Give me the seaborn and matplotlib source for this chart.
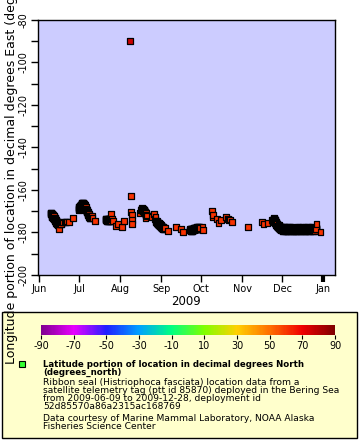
import numpy as np
import pandas as pd
import matplotlib
matplotlib.use("Agg")
import matplotlib.pyplot as plt
import matplotlib.dates as mdates
from matplotlib.colors import LinearSegmentedColormap, Normalize
from matplotlib.patches import Rectangle
from matplotlib.lines import Line2D
import seaborn as sns

plt.rcParams["axes.unicode_minus"] = False

# ---------------- data ----------------
# isolated fixes: "MM-DD HH" and longitude (degrees East)
sparse_times = [
    "06-15 12", "06-16 00", "06-16 12", "06-17 00", "06-17 12", "06-18 00",
    "06-19 00", "06-20 00", "06-21 00", "06-22 00", "06-23 00", "06-26 00",
    "07-09 18", "07-10 12", "07-11 00", "07-13 00",
    "07-25 06", "07-25 18", "07-26 12", "07-29 00", "07-30 00", "08-02 00",
    "08-03 12",
    "08-08 12", "08-09 00", "08-09 06", "08-09 12", "08-09 18", "08-10 00",
    "08-15 12", "08-16 06", "08-20 00",
    "08-25 00", "08-26 12", "08-27 00", "08-27 12",
    "09-03 12", "09-06 00", "09-12 00", "09-16 00", "09-17 00",
    "10-02 00", "10-02 12",
    "10-09 00", "10-09 12", "10-10 00", "10-13 00", "10-14 00", "10-16 00",
    "10-20 00", "10-21 00", "10-22 00", "10-23 00", "10-24 00",
    "11-05 00", "11-16 00", "11-17 00", "11-20 00", "11-23 00",
    "12-27 00", "12-30 00",
]
sparse_lon = [
    -178.6, -176.0, -175.5, -176.2, -175.8, -175.0,
    -175.3, -174.9, -175.2, -174.8, -174.9, -173.0,
    -172.7, -172.2, -173.2, -174.4,
    -171.3, -173.8, -174.5, -176.8, -176.0, -177.6,
    -174.4,
    -89.9, -162.8, -170.2, -171.8, -174.1, -176.0,
    -170.7, -169.4, -173.4,
    -172.7, -171.3, -173.8, -172.5,
    -178.0, -179.1, -177.3, -178.5, -179.6,
    -177.3, -178.8,
    -169.7, -172.6, -171.8, -173.8, -175.4, -174.0,
    -172.8, -173.6, -174.2, -173.9, -174.9,
    -177.3, -174.9, -176.0, -175.4, -174.1,
    -176.0, -179.6,
]

# dense runs of fixes every 6 hours (two interleaved runs, 3 h apart): start and longitudes
jun_start = "2009-06-09 12:00"
jun_lon = [-171.0, -170.6, -171.5, -172.2, -171.3, -172.6, -171.8, -173.0,
           -172.4, -173.4, -172.1, -173.8, -174.0, -173.3, -174.6, -174.2,
           -175.0, -175.6, -174.8, -175.5, -176.0, -175.2, -176.4, -175.8]
jun_start_b = "2009-06-09 15:00"
jun_lon_b = [-170.8, -171.3, -172.0, -171.1, -172.5, -171.6, -172.8, -172.2,
             -173.1, -172.7, -173.6, -173.0, -174.3, -173.7, -174.4, -174.9,
             -174.5, -175.3, -175.1, -175.8, -175.4, -176.1, -175.6, -176.8]

jul_start = "2009-06-30 12:00"
jul_lon = [-168.8, -168.2, -169.0, -168.4, -167.6, -168.0, -167.2, -166.8,
           -167.4, -166.5, -166.0, -166.7, -167.2, -166.3, -166.0, -166.6,
           -167.4, -166.9, -167.8, -168.3, -167.6, -168.8, -169.4, -168.9,
           -169.8, -170.4, -169.9, -170.8, -171.4, -171.0, -171.9, -172.4,
           -172.0, -172.8, -173.2, -172.6]
jul_start_b = "2009-06-30 15:00"
jul_lon_b = [-168.5, -169.3, -168.0, -167.9, -168.6, -167.5, -167.0, -167.9,
             -166.8, -166.3, -166.9, -167.5, -166.6, -166.2, -167.0, -166.4,
             -167.1, -167.9, -167.2, -168.0, -168.6, -168.2, -169.1, -169.6,
             -169.3, -170.1, -170.6, -170.2, -171.1, -171.6, -171.3, -172.1,
             -172.6, -172.3, -173.0, -173.4]

latejul_start = "2009-07-21 00:00"
latejul_lon = [-173.8, -174.3, -173.6, -174.6, -173.9, -174.2, -173.5, -174.4,
               -174.0, -173.7, -174.5, -173.9, -174.2, -173.6, -174.3, -173.8]
latejul_start_b = "2009-07-21 03:00"
latejul_lon_b = [-174.1, -173.7, -174.4, -173.9, -174.3, -173.6, -174.0, -174.6,
                 -173.8, -174.2, -173.9, -174.4, -173.7, -174.1, -174.5, -173.9]

aug_start = "2009-08-17 00:00"
aug_lon = [-169.0, -168.6, -169.4, -168.9, -169.8, -169.2, -170.0, -169.5,
           -170.4, -169.9, -170.6, -171.0, -170.5, -171.4, -171.8, -172.2]
aug_start_b = "2009-08-17 03:00"
aug_lon_b = [-168.8, -169.2, -168.7, -169.6, -169.0, -169.9, -169.3, -170.2,
             -169.7, -170.3, -170.8, -170.2, -171.2, -171.0, -171.6, -172.0]

lateaug_start = "2009-08-28 00:00"
lateaug_lon = [-174.5, -175.2, -174.8, -175.6, -175.1, -176.0, -175.5, -176.3,
               -175.8, -176.6, -176.1, -176.9, -176.4, -177.2, -176.8, -177.5,
               -177.0, -177.8, -177.3, -178.0, -177.6, -178.3, -177.9, -178.5]
lateaug_start_b = "2009-08-28 03:00"
lateaug_lon_b = [-174.9, -174.6, -175.4, -174.9, -175.8, -175.3, -176.1, -175.6,
                 -176.4, -175.9, -176.7, -176.2, -177.0, -176.6, -177.3, -176.9,
                 -177.6, -177.2, -177.9, -177.4, -178.1, -177.7, -178.4, -178.0]

sep_start = "2009-09-22 12:00"
sep_lon = [-178.4, -178.9, -178.2, -179.1, -178.6, -179.3, -178.8, -178.3,
           -179.0, -178.5, -178.1, -178.7, -178.3, -177.9, -178.5, -178.0,
           -177.7, -178.2, -177.8, -178.4, -177.6, -178.1, -177.8, -178.3,
           -177.5, -178.0, -177.7, -178.2, -177.6, -178.0]
sep_start_b = "2009-09-22 15:00"
sep_lon_b = [-178.7, -178.3, -179.0, -178.5, -179.2, -178.9, -178.4, -179.1,
             -178.6, -178.2, -178.8, -178.4, -178.0, -178.6, -178.2, -177.8,
             -178.4, -177.9, -178.1, -177.7, -178.3, -177.9, -177.6, -178.1,
             -177.8, -178.3, -177.5, -177.9, -178.2, -177.7]

nov_start = "2009-11-24 00:00"
nov_lon = [-174.5, -175.2, -174.0, -173.4, -174.2, -173.6, -174.8, -175.5,
           -174.6, -175.8, -176.3, -175.4, -176.6, -177.0, -176.2, -177.4,
           -176.8, -177.6, -177.1, -178.0, -177.4, -178.2, -177.7, -178.5,
           -177.9, -178.3, -177.6, -178.6]
nov_start_b = "2009-11-24 03:00"
nov_lon_b = [-174.0, -174.8, -173.7, -174.5, -173.2, -174.1, -175.1, -174.3,
             -175.3, -176.0, -175.0, -176.1, -176.9, -175.9, -176.7, -177.2,
             -177.3, -176.5, -177.8, -177.0, -178.1, -177.5, -178.3, -178.0,
             -177.4, -178.7, -178.1, -177.9]

dec_start = "2009-12-01 00:00"
dec_lon = [-178.1, -178.9, -177.6, -178.4, -179.2, -178.0, -177.5, -178.7,
           -179.0, -178.2, -177.8, -178.6, -179.3, -178.4, -177.7, -178.9,
           -178.3, -177.9, -178.8, -179.4, -178.5, -177.6, -178.2, -179.0,
           -178.6, -178.0, -177.7, -178.8, -179.2, -178.3, -177.9, -178.5,
           -179.1, -178.4, -177.8, -178.7, -178.1, -179.3, -178.6, -177.7,
           -178.4, -179.0, -178.2, -177.9, -178.8, -179.2, -178.0, -177.6,
           -178.5, -179.1, -178.3, -177.8, -178.9, -178.4, -177.7, -178.6,
           -179.3, -178.1, -177.9, -178.7, -179.0, -178.3, -177.6, -178.5,
           -179.2, -178.0, -177.8, -178.8, -178.4, -179.1, -178.2, -177.7,
           -178.6, -179.0, -178.3, -177.9, -178.7, -179.3, -178.1, -177.6,
           -178.5, -178.9, -178.2, -177.8, -178.6, -179.1, -178.4, -177.9,
           -178.7, -178.0, -177.6, -178.5, -179.0, -178.3, -177.8, -178.8,
           -179.2, -178.1, -177.7, -178.4, -178.9, -178.2, -177.9, -178.6]
dec_start_b = "2009-12-01 03:00"
dec_lon_b = [-178.6, -177.8, -179.1, -178.3, -177.6, -178.9, -178.4, -179.4, -177.9, -178.5,
             -179.0, -178.1, -177.7, -178.8, -179.3, -178.2, -177.5, -178.7, -179.1, -178.0,
             -177.8, -178.9, -178.4, -177.6, -179.2, -178.5, -178.1, -177.9, -178.7, -179.0,
             -178.2, -177.6, -178.9, -178.4, -179.3, -177.8, -178.6, -178.0, -179.1, -178.3,
             -177.7, -178.8, -179.2, -178.5, -177.9, -178.1, -178.7, -179.0, -178.3, -177.6,
             -178.9, -178.2, -179.3, -178.0, -177.8, -178.6, -179.1, -178.4, -177.7, -178.8,
             -178.2, -179.0, -178.5, -177.9, -178.7, -179.3, -178.1, -177.6, -178.9, -178.3,
             -179.1, -178.6, -177.8, -178.4, -179.0, -178.2, -177.7, -178.8, -179.2, -178.5,
             -178.0, -177.9, -178.7, -179.1, -178.3, -177.6, -178.6, -179.0, -178.2, -177.8,
             -178.9, -178.4, -179.2, -178.1, -177.7, -178.5, -179.0, -178.3, -177.9, -178.6,
             -179.1, -178.2, -177.8, -178.4]

outlier_time = "08-08 12"   # the fix near -90 E is a deeper red
lat_default = 60.5
lat_outlier = 76.0

# ---------------- figure ----------------
W, H = 360, 440
fig = plt.figure(figsize=(W / 100, H / 100), dpi=100)
fig.patch.set_facecolor("white")


def fx(px):
    return px / W


def fy(py):
    return 1 - py / H


fig.add_artist(Rectangle((fx(2), fy(438)), fx(355), 126 / H, transform=fig.transFigure,
                         facecolor="#ffffcc", edgecolor="black", linewidth=1.0, zorder=0))

ax = fig.add_axes([fx(38), fy(275), fx(297), 255 / H])
ax.set_facecolor("#ccccff")

cmap = LinearSegmentedColormap.from_list("erddap_rainbow", [
    (0.000, "#800090"),
    (0.111, "#e800ff"),
    (0.222, "#2020ff"),
    (0.333, "#00a0ff"),
    (0.444, "#00ff80"),
    (0.556, "#80ff00"),
    (0.667, "#ffd000"),
    (0.778, "#ff7000"),
    (0.889, "#f00000"),
    (1.000, "#800000"),
])
norm = Normalize(-90, 90)

runs = [(jun_start, jun_lon), (jun_start_b, jun_lon_b),
        (jul_start, jul_lon), (jul_start_b, jul_lon_b),
        (latejul_start, latejul_lon), (latejul_start_b, latejul_lon_b),
        (aug_start, aug_lon), (aug_start_b, aug_lon_b),
        (lateaug_start, lateaug_lon), (lateaug_start_b, lateaug_lon_b),
        (sep_start, sep_lon), (sep_start_b, sep_lon_b),
        (nov_start, nov_lon), (nov_start_b, nov_lon_b),
        (dec_start, dec_lon), (dec_start_b, dec_lon_b)]
frames = []
for start, vals in runs:
    frames.append(pd.DataFrame({"time": pd.date_range(start, periods=len(vals), freq="6h"),
                                "lon": vals}))
frames.append(pd.DataFrame({
    "time": pd.to_datetime(["2009-" + t + ":00" for t in sparse_times], format="%Y-%m-%d %H:%M"),
    "lon": sparse_lon,
}))
df = pd.concat(frames, ignore_index=True)
df["lat"] = lat_default
df.loc[df["time"] == pd.Timestamp("2009-" + outlier_time + ":00"), "lat"] = lat_outlier
df = df.sort_values("time", kind="stable")

sns.scatterplot(data=df, x="time", y="lon", hue="lat", palette=cmap, hue_norm=norm,
                marker="s", s=18, edgecolor="black", linewidth=0.9, legend=False, ax=ax,
                zorder=3)

ax.set_xlim(pd.Timestamp("2009-05-30 21:00"), pd.Timestamp("2010-01-09 22:00"))
ax.set_ylim(-200, -80)
ax.yaxis.set_major_locator(matplotlib.ticker.MultipleLocator(20))
ax.yaxis.set_minor_locator(matplotlib.ticker.MultipleLocator(10))
ax.xaxis.set_major_locator(mdates.MonthLocator())
ax.xaxis.set_major_formatter(mdates.DateFormatter("%b"))
ax.tick_params(axis="both", which="both", direction="out", length=5, width=1,
               color="black", labelsize=7, pad=1.5)
ax.tick_params(axis="y", which="major", labelrotation=90)
for lab in ax.get_yticklabels():
    lab.set_va("center")
for s in ax.spines.values():
    s.set_linewidth(1.0)
    s.set_color("black")
ax.grid(False)

ax.set_xlabel("2009", fontsize=8.5, labelpad=1)
ax.set_ylabel("Longitude portion of location in decimal degrees East (degrees_east)",
              fontsize=9.0)
ax.yaxis.set_label_coords(-0.066, 0.5)

xt = ax.xaxis.get_major_ticks()
if xt:
    xt[-1].tick1line.set_markeredgewidth(3)

# colorbar
cax = fig.add_axes([fx(41), fy(335), fx(294), 10 / H])
sm = matplotlib.cm.ScalarMappable(norm=norm, cmap=cmap)
cb = fig.colorbar(sm, cax=cax, orientation="horizontal", ticks=np.arange(-90, 91, 20))
cb.outline.set_visible(False)
cax.tick_params(labelsize=7, length=3, width=0.8, pad=1)

# legend entry
fig.add_artist(Line2D([fx(22)], [fy(364)], marker="s", markersize=4.5,
                      markerfacecolor="#33ff33", markeredgecolor="black",
                      markeredgewidth=0.8, transform=fig.transFigure))
fig.text(fx(43), fy(364), "Latitude portion of location in decimal degrees North",
         fontsize=6.2, fontweight="bold", va="center", ha="left")
fig.text(fx(43), fy(372), "(degrees_north)", fontsize=6.2, fontweight="bold",
         va="center", ha="left")
lines = [
    "Ribbon seal (Histriophoca fasciata) location data from a",
    "satellite telemetry tag (ptt id 85870) deployed in the Bering Sea",
    "from 2009-06-09 to 2009-12-28, deployment id",
    "52d85570a86a2315ac168769",
    "Data courtesy of Marine Mammal Laboratory, NOAA Alaska",
    "Fisheries Science Center",
]
ys = [382, 390.3, 398.6, 406.9, 418.3, 426.7]
for t, yy in zip(lines, ys):
    fig.text(fx(43), fy(yy), t, fontsize=6.6, va="center", ha="left")

fig.savefig("out.png", dpi=100)
